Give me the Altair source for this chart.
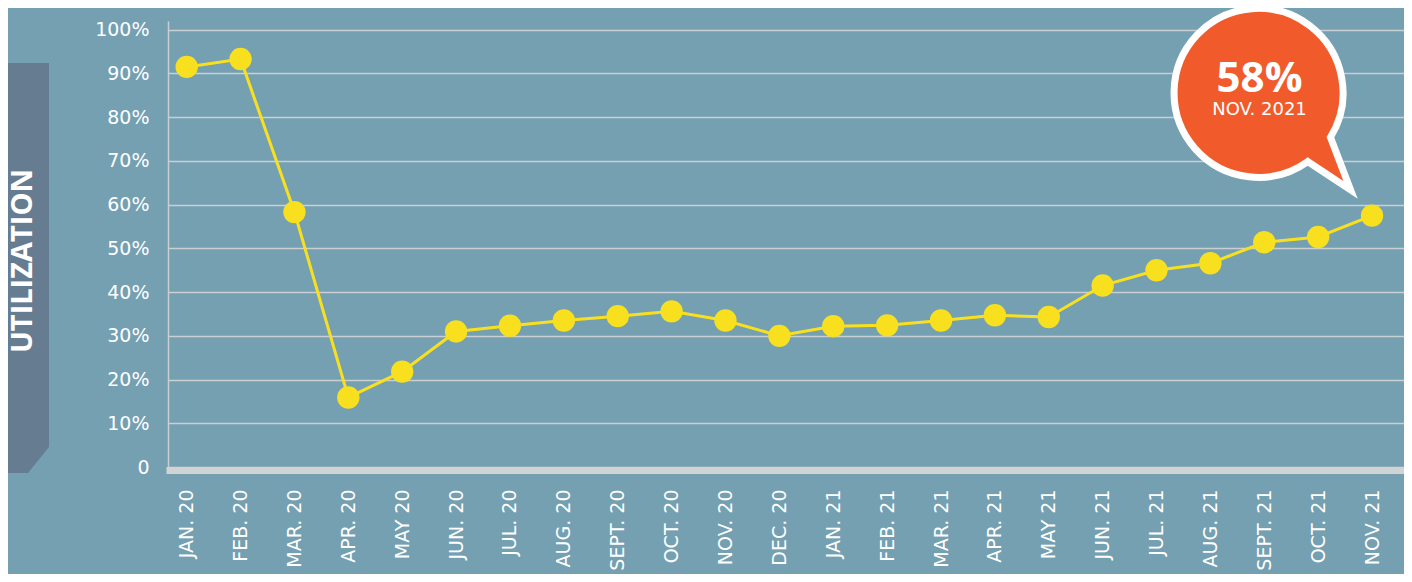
import altair as alt
import pandas as pd

months = ["JAN. 20", "FEB. 20", "MAR. 20", "APR. 20", "MAY 20", "JUN. 20", "JUL. 20",
          "AUG. 20", "SEPT. 20", "OCT. 20", "NOV. 20", "DEC. 20", "JAN. 21", "FEB. 21",
          "MAR. 21", "APR. 21", "MAY 21", "JUN. 21", "JUL. 21", "AUG. 21", "SEPT. 21",
          "OCT. 21", "NOV. 21"]
values = [91.5, 93.3, 58.3, 15.9, 21.8, 31.0, 32.3, 33.5, 34.5, 35.6, 33.5, 30.0,
          32.2, 32.4, 33.5, 34.7, 34.3, 41.5, 45.0, 46.6, 51.4, 52.6, 57.5]
y_ticks = [0, 10, 20, 30, 40, 50, 60, 70, 80, 90, 100]
callout_value = "58%"
callout_date = "NOV. 2021"
side_title = "UTILIZATION"

W, H = 1236, 446
BG = "#74a0b2"
FONT = "DejaVu Sans"
FONT2 = "Open Sans"

df = pd.DataFrame({"month": months, "value": values})
last = df.tail(1).copy()

xscale = alt.Scale(type="point", padding=0.47, align=0.369)
xenc = alt.X("month:N", sort=months, scale=xscale,
             axis=alt.Axis(title=None, labelAngle=-90, labelColor="white", labelFontSize=19,
                           labelFont=FONT, labelPadding=22, ticks=False, domain=False,
                           grid=False))
yenc = alt.Y("value:Q", scale=alt.Scale(domain=[0, 102], nice=False),
             axis=alt.Axis(title=None, values=y_ticks, labelColor="white", labelFontSize=19,
                           labelFont=FONT, labelPadding=19, ticks=False,
                           domainColor="#c9cfd2", domainWidth=1.5,
                           gridColor="#c9cfd2", gridWidth=1.5,
                           labelExpr="datum.value == 0 ? '0' : datum.value + '%'"))

box = alt.Chart(last).mark_point(
    shape="M -168 42 L -119 42 L -119 426 L -140 452 L -168 452 Z",
    size=4, filled=True, fill="#667c91", opacity=1, strokeWidth=0
).encode(x=alt.value(0), y=alt.value(0))

box_text = alt.Chart(last).mark_text(
    text=side_title, angle=270, font=FONT2, fontSize=29, fontWeight="bold",
    color="white", align="center", baseline="middle"
).encode(x=alt.value(-145), y=alt.value(240))

base = alt.Chart(df).encode(x=xenc, y=yenc)

zero_bar = alt.Chart(last).mark_rule(color="#d1d3d4", strokeWidth=7, yOffset=3.5).encode(
    y=alt.datum(0), x=alt.value(-1.5), x2=alt.value(W))

line = base.mark_line(color="#f9e01f", strokeWidth=3)
pts = base.mark_point(filled=True, color="#f9e01f", size=500, opacity=1)

enc_last = dict(x=alt.X("month:N", sort=months, scale=xscale), y="value:Q")

bubble = alt.Chart(last).mark_point(
    shape="M 0.719 0.444 L 0.92 0.97 L 0.492 0.687 A 0.845 0.845 0 1 1 0.719 0.444 Z",
    size=40000, filled=True, fill="#f15a2b", stroke="white", strokeWidth=7,
    opacity=1, strokeOpacity=1, xOffset=-113.5, yOffset=-122.7
).encode(**enc_last)

t1 = alt.Chart(last).mark_text(
    text=callout_value, font=FONT2, fontSize=42, fontWeight="bold", color="white",
    align="center", baseline="alphabetic", dx=-112.5, dy=-123.7
).encode(**enc_last)

t2 = alt.Chart(last).mark_text(
    text=callout_date, font=FONT, fontSize=18, color="white",
    align="center", baseline="alphabetic", dx=-112.5, dy=-100.7
).encode(**enc_last)

chart = alt.layer(box, box_text, line, zero_bar, pts, bubble, t1, t2).properties(
    width=W, height=H,
    background=BG,
    padding={"left": 160, "top": 13, "right": 0, "bottom": 107},
    autosize=alt.AutoSizeParams(type="none"),
).configure_view(stroke=None)

chart.save("out.html", embed_options={"renderer": "svg", "actions": False})
